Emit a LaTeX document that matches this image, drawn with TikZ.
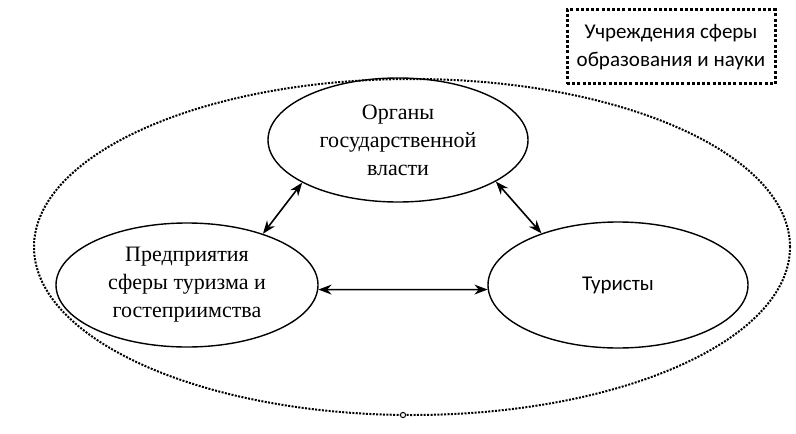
\documentclass[tikz,border=0pt]{standalone}
\usepackage{fontspec}
\setmainfont{Liberation Serif}
\newfontfamily\calibri{Carlito}
\usetikzlibrary{arrows.meta,shapes.geometric}

\begin{document}
\begin{tikzpicture}[x=0.5pt,y=-0.5pt]

\useasboundingbox (0,0) rectangle (796,433);

\tikzstyle{every node}=[draw,shape=ellipse,inner sep=0pt,align=center,anchor=center,line width=0.7pt,font=\fontsize{11pt}{14pt}\selectfont];

% Outer dotted area and the separate dotted box
\node[line width=1pt,dash pattern=on 1pt off 0.7pt,minimum width=378pt,minimum height=168pt] (area) at (412,247) {};
\node[shape=circle,minimum size=2.6pt,line width=0.5pt,fill=white] (handle) at (403,415) {};
\node[shape=rectangle,line width=1.5pt,dash pattern=on 1.5pt off 1.1pt,minimum width=104pt,minimum height=37pt,font=\calibri\fontsize{10.5pt}{14pt}\selectfont] (edu) at (671,47) {Учреждения сферы\\образования и науки};

% The three participants
\node[minimum width=130pt,minimum height=62pt] (gov) at (398,140) {Органы\\государственной\\власти};
\node[minimum width=131pt,minimum height=62pt] (biz) at (187,285) {Предприятия\\сферы туризма и\\гостеприимства};
\node[minimum width=130pt,minimum height=63pt,font=\calibri\fontsize{10.5pt}{14pt}\selectfont] (tour) at (618,285) {Туристы};

\tikzset{every edge/.append style = {Stealth-Stealth,line width=0.8pt}};

% Links between them
\path
  (biz.34) edge (gov.204)
  (gov.337) edge (tour.146)
  (biz.-2) edge (tour.182);

\end{tikzpicture}
\end{document}
